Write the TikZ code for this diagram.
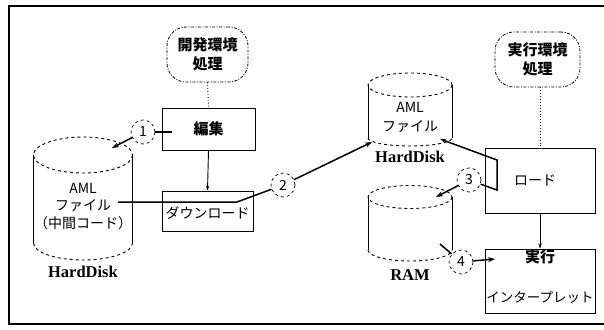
\documentclass[tikz,border=0pt]{standalone}
\usepackage{fontspec}
\setmainfont{Liberation Serif}
\newfontfamily\jp{Noto Sans CJK JP}
\usetikzlibrary{arrows.meta}
\begin{document}
\begin{tikzpicture}[x=1pt,y=-1pt,
  box/.style={draw,line width=1pt,inner sep=0pt},
  procbox/.style={draw,line width=0.8pt,rounded corners=19pt,
    dash pattern=on 3pt off 1.5pt on 1pt off 1.5pt,inner sep=0pt,
    align=center,font=\jp\bfseries\fontsize{15}{19}\selectfont},
  lbl/.style={inner sep=0pt,font=\jp\fontsize{14}{16}\selectfont},
  disklbl/.style={inner sep=0pt,font=\bfseries\fontsize{16.5}{18}\selectfont},
  numc/.style={circle,draw,dashed,line width=0.7pt,minimum size=24pt,
    inner sep=0pt,font=\jp\fontsize{14}{14}\selectfont},
  conn/.style={line width=1.5pt},
  thin/.style={line width=0.9pt},
  tip/.style={-{Stealth[length=7pt,width=5pt]}},
  tiprev/.style={{Stealth[length=6pt,width=4pt]}-},
  smalltip/.style={-{Stealth[length=5pt,width=3.5pt]}},
  cylside/.style={line width=0.9pt},
  cylend/.style={line width=0.9pt,dashed},
]
% page and frame
\fill[white] (0,0) rectangle (604,329);
\useasboundingbox (0,0) rectangle (604,329);
\draw[line width=2.5pt] (9,6) -- (604,6);
\draw[line width=1.5pt] (9,5) -- (9,324) -- (604,324);

% development side
\node[procbox,minimum width=81pt,minimum height=55pt] (devproc) at (207.5,54.5) {開発環境\\処理};
\node[box,minimum width=93pt,minimum height=42pt,font=\jp\bfseries\fontsize{15}{17}\selectfont] (edit) at (208.5,129) {編集};
\node[box,minimum width=91pt,minimum height=40pt] (download) at (207.5,211) {};
\node[lbl] (downloadtxt) at (207.5,213) {ダウンロード};
\draw[thin,dotted] (devproc.south) -- (edit.north);
\draw[thin,smalltip] (edit.south) -- (download.north);

% hard disk on the development side
\draw[cylside] (33.5,155) -- (33.5,243);
\draw[cylside] (132.5,155) -- (132.5,243);
\draw[cylend] (83,155) ellipse [x radius=49.5,y radius=18];
\draw[cylend] (33.5,243) arc[start angle=180,end angle=0,x radius=49.5,y radius=17];
\node[lbl] (aml1) at (83,188) {AML};
\node[lbl] (file1) at (83,206) {ファイル};
\node[lbl] (mid1) at (83,223) {（中間コード）};
\node[disklbl] (hd1) at (83,272) {HardDisk};

% execution side
\node[procbox,minimum width=85pt,minimum height=55pt] (runproc) at (537.5,59.5) {実行環境\\処理};
\node[box,minimum width=110pt,minimum height=65pt] (load) at (540,180.5) {};
\node[lbl] (loadtxt) at (535,180) {ロード};
\node[box,minimum width=110pt,minimum height=64pt] (exec) at (540,281) {};
\node[lbl,font=\jp\bfseries\fontsize{15}{17}\selectfont] (exectxt) at (540,257) {実行};
\node[lbl,font=\jp\fontsize{13.5}{16}\selectfont] (interp) at (540,297) {インタープレット};
\draw[thin,dotted] (runproc.south -| load.north) -- (load.north);
\draw[thin,smalltip] (load.south) -- (exec.north);

% hard disk on the execution side
\draw[cylside] (368,85) -- (368,138);
\draw[cylside] (452,85) -- (452,138);
\draw[cylend] (410,85) ellipse [x radius=42,y radius=12];
\draw[cylend] (368,138) arc[start angle=180,end angle=0,x radius=42,y radius=8];
\node[lbl] (aml2) at (410,107) {AML};
\node[lbl] (file2) at (410,127) {ファイル};
\node[disklbl] (hd2) at (410,157) {HardDisk};

% RAM
\draw[cylside] (368,197) -- (368,250);
\draw[cylside] (452,197) -- (452,250);
\draw[cylend] (410,197) ellipse [x radius=42,y radius=11.5];
\draw[cylend] (368,250) arc[start angle=180,end angle=0,x radius=42,y radius=11];
\node[disklbl] (ram) at (410,275) {RAM};

% numbered steps
\node[numc] (c1) at (143,132) {1};
\node[numc] (c2) at (283,185) {2};
\node[numc] (c3) at (469,180) {3};
\node[numc] (c4) at (461,262) {4};

% step connectors
\coordinate (s1) at (172,132);
\coordinate (t1) at (112,148);
\draw[conn] (s1) -- (c1);
\draw[conn,tip] (c1) -- (t1);

\coordinate (s2) at (118,202);
\coordinate (k2) at (237,202);
\coordinate (t2) at (372,142);
\draw[conn] (s2) -- (k2) -- (c2);
\draw[conn,tip] (c2) -- (t2);

\coordinate (t3a) at (440,139);
\coordinate (k3a) at (497,160);
\coordinate (k3b) at (497,190);
\coordinate (t3) at (436,197);
\draw[conn,tiprev] (t3a) -- (k3a) -- (k3b) -- (c3);
\draw[conn,tip] (c3) -- (t3);

\coordinate (s4) at (440,244);
\coordinate (t4) at (495,259);
\draw[conn] (s4) -- (c4);
\draw[conn,tip] (c4) -- (t4);
\end{tikzpicture}
\end{document}
